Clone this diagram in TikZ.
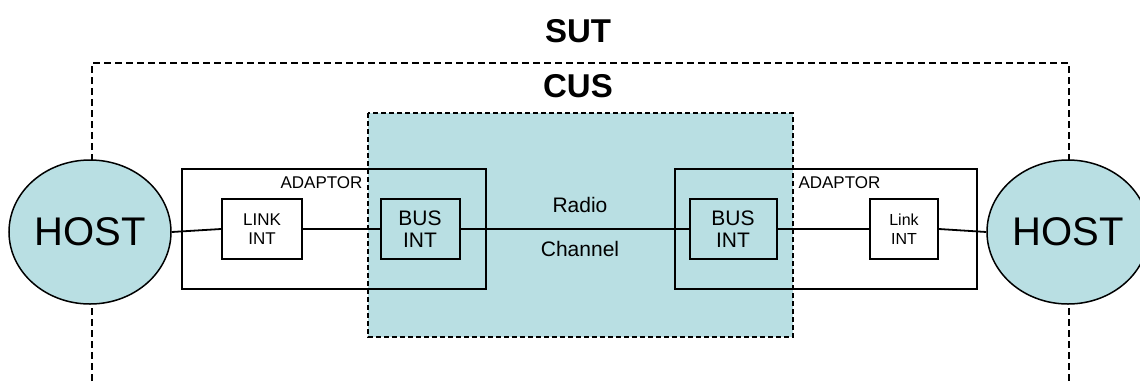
\documentclass[tikz,border=0pt]{standalone}
\usepackage{fontspec}
\setmainfont{Liberation Sans}
\usetikzlibrary{shapes.geometric}
\definecolor{cusfill}{RGB}{185,223,227}
\tikzset{
	hostnode/.style={ellipse, draw, fill=cusfill, line width=1.5pt, minimum width=162pt, minimum height=144pt, inner sep=0pt, font=\fontsize{40}{40}\selectfont},
	intbox/.style={draw, line width=2pt, inner sep=0pt, minimum height=60pt, align=center},
	adaptorbox/.style={draw, line width=2pt, inner sep=0pt, minimum width=#1, minimum height=120pt},
	bigtitle/.style={font=\fontsize{33}{33}\selectfont\bfseries},
	wire/.style={line width=1.8pt}
}
\begin{document}
\begin{tikzpicture}[x=1pt, y=-1pt, every node/.style={align=center}]
		\useasboundingbox (0,0) rectangle (1140,381);

		% Titles
		\node[bigtitle] (sut) at (578,31) {SUT};
		\node[bigtitle] (cus) at (578,86) {CUS};

		% SUT border
		\draw[line width=1.8pt, dash pattern=on 7pt off 4pt] (92,381) -- (92,63) -- (1069,63) -- (1069,381);

		% CUS area
		\fill[cusfill] (368,113) rectangle (793,337);

		% Adaptors
		\node[adaptorbox=304pt] (adaptL) at (334,229) {};
		\node[adaptorbox=302pt] (adaptR) at (826,229) {};
		\node[anchor=east, font=\fontsize{17}{17}\selectfont] (adlabL) at (366,183) {ADAPTOR};
		\node[anchor=west, font=\fontsize{17}{17}\selectfont] (adlabR) at (795,183) {ADAPTOR};

		% CUS border
		\draw[line width=1.8pt, dash pattern=on 5pt off 3pt] (368,113) rectangle (793,337);

		% Interfaces
		\node[intbox, fill=white, minimum width=80pt, font=\fontsize{17}{19}\selectfont] (linkL) at (262,229) {LINK\\INT};
		\node[intbox, minimum width=79pt, font=\fontsize{21}{22}\selectfont] (busL) at (420,229) {BUS\\INT};
		\node[intbox, minimum width=87pt, font=\fontsize{21}{22}\selectfont] (busR) at (733,229) {BUS\\INT};
		\node[intbox, fill=white, minimum width=68pt, font=\fontsize{16}{19}\selectfont] (linkR) at (904,229) {Link\\INT};

		% Hosts
		\node[hostnode] (hostL) at (90,232) {HOST};
		\node[hostnode] (hostR) at (1068,232) {HOST};

		% Channel labels
		\node[font=\fontsize{21}{21}\selectfont] (radio) at (580,205) {Radio};
		\node[font=\fontsize{21}{21}\selectfont] (channel) at (580,249) {Channel};

		% Wires
		\draw[wire] (hostL.east) -- (linkL.west);
		\draw[wire] (linkL.east) -- (busL.west);
		\draw[wire] (busL.east) -- (busR.west);
		\draw[wire] (busR.east) -- (linkR.west);
		\draw[wire] (linkR.east) -- (hostR.west);
	\end{tikzpicture}
\end{document}
